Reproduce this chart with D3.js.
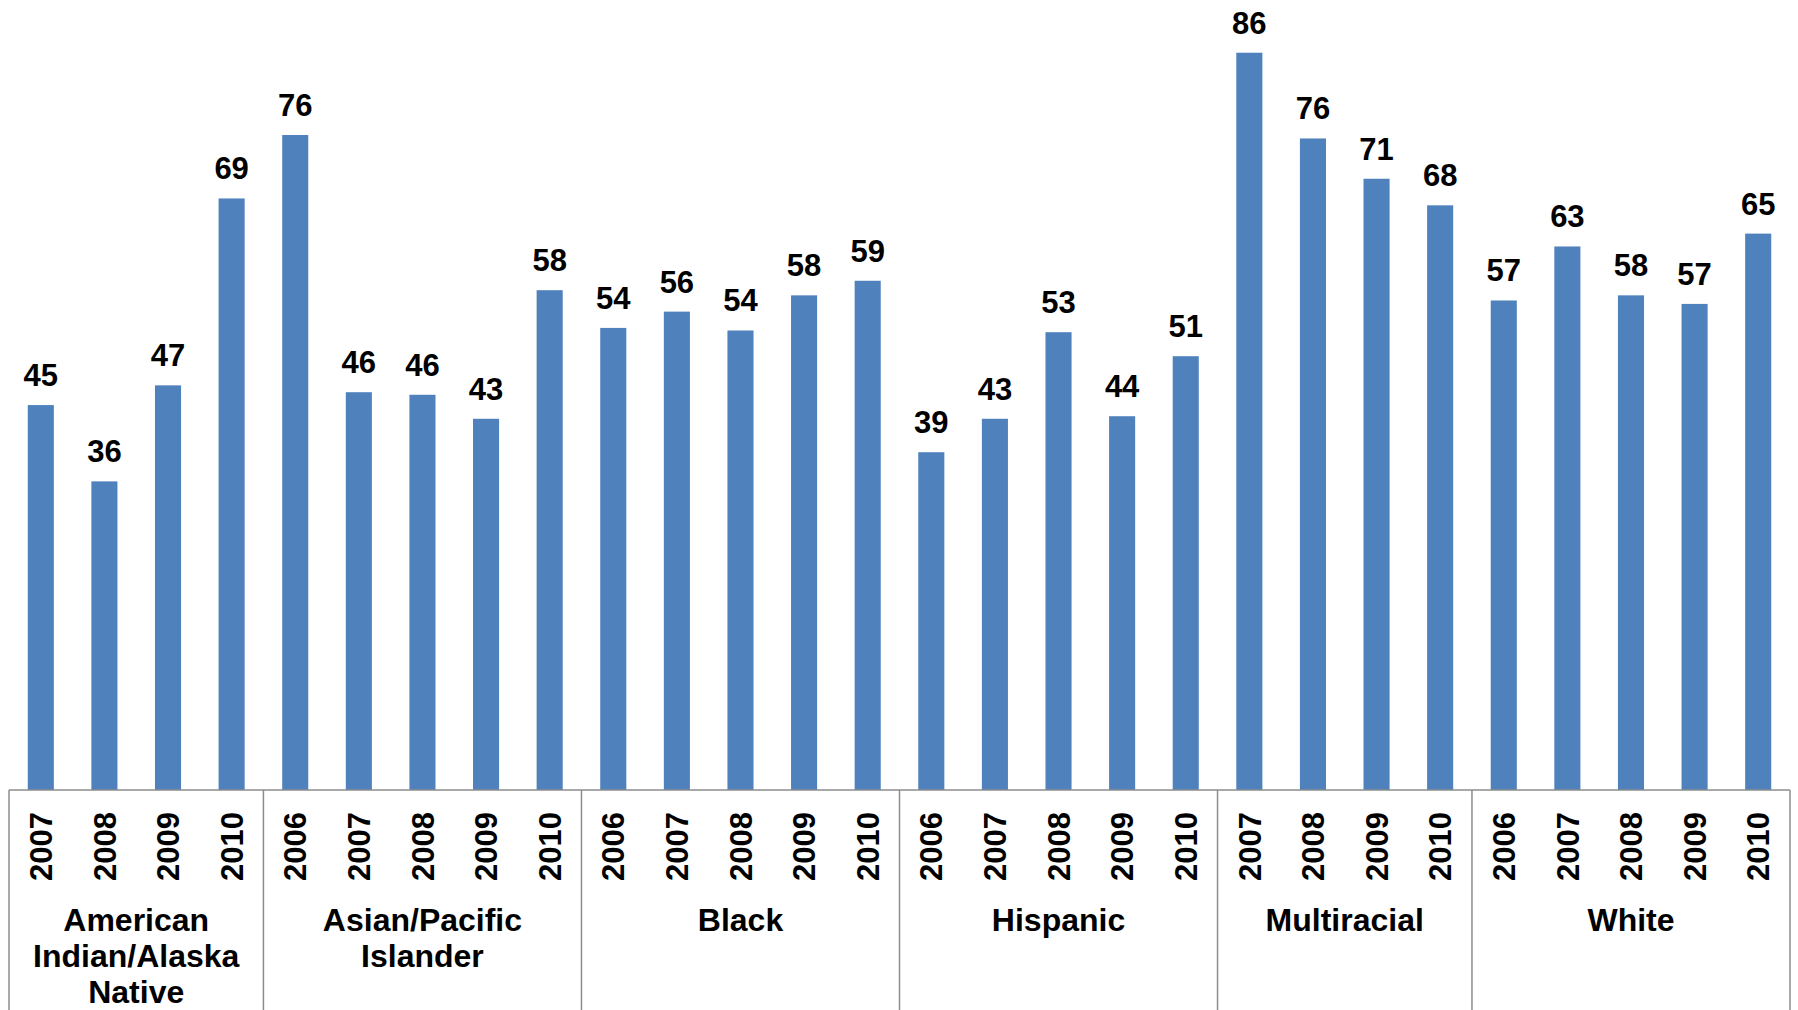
<!DOCTYPE html>
<html>
<head>
<meta charset="utf-8">
<script src="https://cdn.jsdelivr.net/npm/d3@7"></script>
<style>
  body { margin: 0; background: #fff; }
  text { font-family: "Liberation Sans", Arial, sans-serif; font-weight: bold; fill: #000; }
</style>
</head>
<body>
<div id="chart"></div>
<script>
// groups and the years shown inside each group
const groups = ["American Indian/Alaska Native", "Asian/Pacific Islander", "Black", "Hispanic", "Multiracial", "White"];
const groupLines = [["American", "Indian/Alaska", "Native"], ["Asian/Pacific", "Islander"], ["Black"], ["Hispanic"], ["Multiracial"], ["White"]];
const groupYears = [
  ["2007", "2008", "2009", "2010"],
  ["2006", "2007", "2008", "2009", "2010"],
  ["2006", "2007", "2008", "2009", "2010"],
  ["2006", "2007", "2008", "2009", "2010"],
  ["2007", "2008", "2009", "2010"],
  ["2006", "2007", "2008", "2009", "2010"]
];
// values
const groupValues = [
  [44.9, 36.0, 47.2, 69.0],
  [76.4, 46.4, 46.1, 43.3, 58.3],
  [53.9, 55.8, 53.6, 57.7, 59.4],
  [39.4, 43.3, 53.4, 43.6, 50.6],
  [86.0, 76.0, 71.3, 68.2],
  [57.1, 63.4, 57.7, 56.7, 64.9]
];

const width = 1798, height = 1010;
const left = 9, right = 1790, baseY = 790;

// flatten into one row per bar
const rows = [];
groups.forEach((g, gi) => {
  groupYears[gi].forEach((yr, j) => {
    rows.push({ key: gi + "-" + yr, group: gi, year: yr, value: groupValues[gi][j] });
  });
});

const svg = d3.select("#chart")
  .append("svg")
    .attr("width", width)
    .attr("height", height);

const x = d3.scaleBand()
  .domain(rows.map(d => d.key))
  .range([left, right])
  .paddingInner(0.59)
  .paddingOuter(0.295);

const y = d3.scaleLinear()
  .domain([0, 100])
  .range([baseY, baseY - 857.3]);

// bars
svg.selectAll("rect.bar")
  .data(rows)
  .enter()
  .append("rect")
    .attr("class", "bar")
    .attr("x", d => x(d.key))
    .attr("y", d => y(d.value))
    .attr("width", x.bandwidth())
    .attr("height", d => y(0) - y(d.value))
    .attr("fill", "#4f81bd");

// value labels
svg.selectAll("text.val")
  .data(rows)
  .enter()
  .append("text")
    .attr("class", "val")
    .attr("x", d => x(d.key) + x.bandwidth() / 2)
    .attr("y", d => y(d.value) - 19)
    .attr("text-anchor", "middle")
    .style("font-size", "31px")
    .text(d => d3.format(".0f")(d.value));

// category axis: line, group dividers
const step = x.step();
const edge = key => x(key) - (step - x.bandwidth()) / 2;

svg.append("line")
  .attr("x1", left).attr("x2", right)
  .attr("y1", baseY).attr("y2", baseY)
  .attr("stroke", "#8c8c8c").attr("stroke-width", 1.5);

const bounds = [];
groups.forEach((g, gi) => {
  const keys = rows.filter(d => d.group === gi).map(d => d.key);
  bounds.push({ gi: gi, x0: edge(keys[0]), x1: edge(keys[keys.length - 1]) + step });
});

const dividers = bounds.map(b => b.x0).concat([right]);
svg.selectAll("line.div")
  .data(dividers)
  .enter()
  .append("line")
    .attr("class", "div")
    .attr("x1", d => d).attr("x2", d => d)
    .attr("y1", baseY).attr("y2", height)
    .attr("stroke", "#8c8c8c").attr("stroke-width", 1.5);

// year labels, rotated
svg.selectAll("text.year")
  .data(rows)
  .enter()
  .append("text")
    .attr("class", "year")
    .attr("transform", d => "translate(" + (x(d.key) + x.bandwidth() / 2) + "," + (baseY + 22) + ") rotate(-90)")
    .attr("text-anchor", "end")
    .attr("dy", "0.36em")
    .style("font-size", "31px")
    .text(d => d.year);

// group labels
const glab = svg.selectAll("text.group")
  .data(bounds)
  .enter()
  .append("text")
    .attr("class", "group")
    .attr("text-anchor", "middle")
    .style("font-size", "32px");

glab.selectAll("tspan")
  .data(b => groupLines[b.gi].map((t, i) => ({ t: t, i: i, cx: (b.x0 + b.x1) / 2 })))
  .enter()
  .append("tspan")
    .attr("x", d => d.cx)
    .attr("y", d => 931 + d.i * 36)
    .text(d => d.t);
</script>
</body>
</html>
